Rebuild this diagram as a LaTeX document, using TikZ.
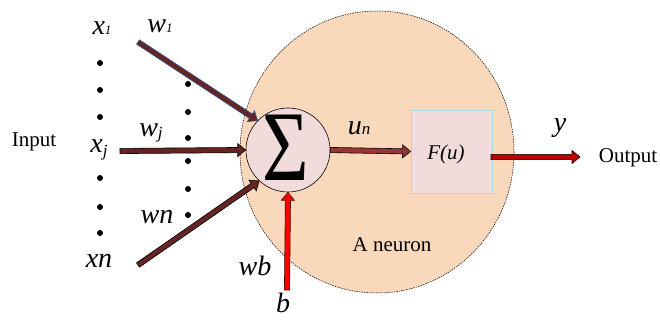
\documentclass[tikz,border=0pt]{standalone}
\usepackage{fontspec}
\setmainfont{Liberation Serif}
\usetikzlibrary{calc}
\definecolor{peach}{HTML}{FAD8BC}
\definecolor{pinkish}{HTML}{F2DCDB}
\definecolor{boxline}{HTML}{A9D4E2}
\definecolor{brownA}{HTML}{632523}
\definecolor{brownB}{HTML}{943634}
\definecolor{blueline}{HTML}{2F5597}
\definecolor{darkred}{HTML}{C00000}
\newcommand\barrow[3]{%
  \coordinate (bC) at ($(#3)!8pt!(#2)$);
  \filldraw[#1] ($(#2)!2.6pt!90:(#3)$) -- ($(bC)!2.6pt!90:(#3)$) -- ($(bC)!6.5pt!90:(#3)$) -- (#3)
    -- ($(bC)!6.5pt!-90:(#3)$) -- ($(bC)!2.6pt!-90:(#3)$) -- ($(#2)!2.6pt!-90:(#3)$) -- cycle;}
\newcommand\bigv{\fontsize{28}{30}\selectfont\itshape}
\newcommand\smallv{\fontsize{13}{14}\selectfont\itshape}
\newcommand\txt{\fontsize{21}{24}\selectfont}
\tikzset{
  arr/.style={line width=0.6pt, line join=miter},
  lab/.style={anchor=base, inner sep=0pt},
  dot/.style={fill=black},
}
\begin{document}
\begin{tikzpicture}[x=1pt,y=-1pt]
\useasboundingbox (0,0) rectangle (660,320);
% neuron body
\draw[fill=peach, draw=black, line width=0.5pt, dash pattern=on 1.5pt off 1pt] (377,152) ellipse [x radius=137, y radius=141];
% nodes
\node[circle, draw=black, line width=0.6pt, fill=pinkish, minimum size=84pt, inner sep=0pt] (sig) at (288,150) {};
\node[inner sep=0pt] (sigma) at (286,148) {\fontsize{100}{100}\selectfont\scalebox{0.8}[1]{Σ}};
\node[rectangle, draw=boxline, line width=0.8pt, fill=pinkish, minimum width=81pt, minimum height=83pt, inner sep=0pt] (box) at (451.5,151.5) {};
\node[lab] (fu) at (446,160) {\fontsize{21}{22}\selectfont\itshape F(u)};
% dots
\foreach \yy in {63,90,117,178,207,233} \fill[dot] (100,\yy) circle (3pt);
\foreach \yy in {84,112,138,161,189,215} \fill[dot] (188,\yy) circle (3pt);
% coordinates
\coordinate (s1) at (138,42);
\coordinate (sj) at (120,151);
\coordinate (sn) at (138,265);
\coordinate (sb) at (287,290);
\coordinate (oS) at (491,157);
\coordinate (oE) at (580,157);
% arrows
\barrow{arr, fill=brownA, draw=blueline}{s1}{sig.136}
\barrow{arr, fill=brownA, draw=black}{sj}{sig.west}
\barrow{arr, fill=brownA, draw=black}{sn}{sig.227}
\barrow{arr, fill=red, draw=black!70!red}{sb}{sig.south}
\barrow{arr, fill=brownB, draw=black}{sig.east}{box.west}
\barrow{arr, fill=darkred, draw=black}{oS}{oE}
% labels
\node[lab] (x1) at (102,35) {\bigv x\smallv 1};
\node[lab] (w1) at (160,33) {\bigv w\smallv 1};
\node[lab] (inp) at (34,147) {\txt Input};
\node[lab] (xj) at (99,153) {\bigv x\raisebox{-4pt}{\fontsize{17}{18}\selectfont\itshape j}};
\node[lab] (wj) at (151,137) {\bigv w\raisebox{-2pt}{\fontsize{17}{18}\selectfont\itshape j}};
\node[lab] (wn) at (157,223) {\bigv wn};
\node[lab] (xn) at (99,267) {\bigv xn};
\node[lab] (wb) at (255,275) {\bigv wb};
\node[lab] (b) at (283,312) {\bigv b};
\node[lab] (un) at (359,135) {\bigv u\fontsize{17}{18}\selectfont\itshape n};
\node[lab] (y) at (560,132) {\bigv y};
\node[lab] (neu) at (392,251) {\txt A neuron};
\node[lab] (out) at (628,163) {\txt Output};
\end{tikzpicture}
\end{document}
